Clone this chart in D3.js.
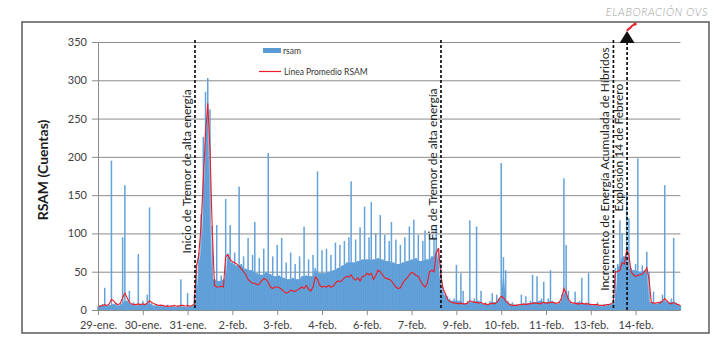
<!DOCTYPE html>
<html>
<head>
<meta charset="utf-8">
<script src="https://cdn.jsdelivr.net/npm/d3@7"></script>
<style>
  html, body { margin: 0; padding: 0; background: #fff; }
  svg { display: block; font-family: Lato, "Open Sans", sans-serif; }
</style>
</head>
<body>
<svg id="chart" width="724" height="338"></svg>
<script>
// x axis labels, one every 20 samples
const tickLabels = ["29-ene.", "30-ene.", "31-ene.", "2-feb.", "3-feb.", "4-feb.", "6-feb.",
  "7-feb.", "9-feb.", "10-feb.", "11-feb.", "13-feb.", "14-feb."];
const yTicks = [0, 50, 100, 150, 200, 250, 300, 350];

// rsam
const rsam = [
  5, 6, 8, 29, 6, 7, 195, 8, 10, 6,
  9, 95, 163, 12, 25, 8, 10, 6, 73, 7,
  12, 8, 20, 134, 9, 6, 8, 5, 7, 6,
  5, 7, 4, 6, 5, 4, 6, 40, 5, 4,
  22, 5, 6, 20, 60, 75, 125, 226, 285, 303,
  262, 110, 40, 111, 38, 45, 40, 145, 74, 111,
  62, 75, 58, 161, 60, 70, 54, 94, 52, 72,
  115, 48, 68, 46, 80, 50, 205, 47, 70, 44,
  85, 45, 94, 42, 62, 40, 75, 42, 60, 40,
  70, 44, 109, 45, 66, 44, 72, 55, 181, 48,
  78, 48, 80, 50, 72, 52, 88, 55, 85, 58,
  90, 62, 95, 168, 62, 92, 64, 108, 66, 135,
  66, 95, 141, 66, 100, 68, 124, 66, 98, 64,
  90, 115, 62, 92, 60, 85, 62, 95, 64, 109,
  66, 118, 68, 98, 64, 90, 104, 66, 100, 70,
  95, 110, 80, 60, 30, 22, 18, 15, 12, 15,
  59, 12, 48, 25, 8, 12, 117, 10, 15, 109,
  12, 25, 8, 10, 7, 12, 22, 10, 20, 15,
  192, 69, 52, 12, 8, 10, 7, 8, 6, 20,
  8, 18, 8, 12, 46, 10, 44, 12, 15, 37,
  10, 15, 52, 12, 10, 8, 12, 20, 172, 85,
  25, 12, 8, 24, 10, 12, 42, 8, 10, 48,
  8, 6, 7, 10, 6, 5, 8, 6, 7, 8,
  10, 55, 60, 117, 100, 70, 150, 120, 55, 52,
  60, 198, 50, 58, 52, 76, 50, 10, 24, 8,
  10, 12, 20, 163, 12, 10, 15, 94, 10, 8,
  6
];

// Linea Promedio RSAM
const rsamAvg = [
  5, 5, 6, 7, 6, 8, 14, 12, 8, 7,
  9, 16, 22, 16, 10, 8, 7, 7, 8, 7,
  8, 7, 9, 12, 10, 8, 7, 6, 6, 6,
  5, 5, 5, 5, 6, 5, 5, 6, 6, 5,
  6, 5, 6, 8, 58, 72, 110, 170, 230, 270,
  210, 105, 32, 30, 30, 31, 30, 70, 72, 66,
  63, 62, 60, 57, 54, 50, 46, 40, 37, 35,
  35, 33, 34, 38, 41, 40, 36, 30, 28, 30,
  30, 29, 27, 24, 22, 23, 26, 25, 24, 26,
  28, 30, 28, 32, 27, 25, 30, 43, 40, 32,
  30, 31, 30, 32, 30, 31, 35, 38, 37, 39,
  42, 44, 43, 46, 41, 39, 42, 38, 44, 44,
  48, 46, 48, 40, 45, 52, 50, 46, 42, 41,
  40, 38, 34, 30, 28, 29, 35, 39, 42, 46,
  49, 48, 45, 44, 38, 33, 30, 35, 50, 52,
  50, 74, 81, 48, 28, 22, 14, 11, 10, 9,
  9, 8, 9, 8, 8, 9, 12, 11, 10, 10,
  9, 10, 8, 8, 7, 8, 9, 8, 10, 14,
  18, 16, 12, 9, 7, 6, 6, 6, 7, 7,
  8, 7, 8, 8, 9, 9, 9, 8, 9, 10,
  9, 9, 10, 10, 9, 9, 10, 16, 28, 22,
  14, 10, 9, 9, 8, 8, 9, 8, 8, 8,
  7, 7, 7, 7, 6, 6, 6, 7, 7, 8,
  10, 50, 50, 52, 62, 60, 78, 72, 50, 46,
  44, 45, 46, 47, 50, 55, 40, 10, 9, 9,
  10, 9, 12, 15, 12, 9, 8, 10, 8, 7,
  6
];

// event lines (sample position) and their labels
const eventPos = [43.3, 153.1, 230.1, 236.2];
const eventLabels = ["Inicio de Tremor de alta energía", "Fin de Tremor de alta energía",
  "Incremento de Energía Acumulada de Híbridos", "Explosión 14 de Febrero"];
const eventLabelMid = [181, 190, 184, 212]; // in rsam units

const svg = d3.select("#chart");
const x = d3.scaleLinear().domain([0, rsam.length - 1]).range([98, 680.4]);
const y = d3.scaleLinear().domain([0, 350]).range([310, 42]);

// outer frame
svg.append("rect")
  .attr("x", 22).attr("y", 22).attr("width", 687).attr("height", 311)
  .attr("fill", "none").attr("stroke", "#5a5a5a").attr("stroke-width", 1.5);

svg.append("text")
  .attr("x", 708).attr("y", 16)
  .attr("text-anchor", "end")
  .attr("font-size", 11).attr("font-style", "italic").attr("font-weight", 300)
  .attr("letter-spacing", 0.6)
  .attr("fill", "#9d9d9d")
  .text("ELABORACIÓN OVS");

// gridlines
svg.append("g")
  .attr("transform", "translate(98,0)")
  .call(d3.axisLeft(y).tickValues(yTicks.slice(1)).tickSize(-(680.4 - 98)).tickFormat(""))
  .call(g => g.select(".domain").remove())
  .call(g => g.selectAll("line").attr("stroke", "#8c8c8c").attr("stroke-width", 1));

// rsam: solid body up to the local low, thin hair for every sample
const low = rsam.map((d, i) => Math.min(d, rsam[i - 1] ?? d, rsam[i + 1] ?? d));
svg.append("path")
  .datum(low)
  .attr("fill", "#5b9bd5")
  .attr("d", d3.area().x((d, i) => x(i)).y0(y(0)).y1(d => y(d)));

svg.append("g")
  .selectAll("rect")
  .data(rsam)
  .join("rect")
  .attr("x", (d, i) => x(i) - 0.75)
  .attr("width", 1.5)
  .attr("y", d => y(d))
  .attr("height", d => y(0) - y(d))
  .attr("fill", "#64a2d9");

// average line
svg.append("path")
  .datum(rsamAvg)
  .attr("fill", "none")
  .attr("stroke", "#ee1c24")
  .attr("stroke-width", 1.1)
  .attr("d", d3.line().x((d, i) => x(i)).y(d => y(d)));

// axes
const yAxis = svg.append("g")
  .attr("transform", "translate(98,0)")
  .call(d3.axisLeft(y).tickValues(yTicks).tickSize(6).tickPadding(5).tickSizeOuter(0));
yAxis.selectAll("text").attr("font-size", 11).attr("fill", "#404040").style("font-family", "Lato, sans-serif");
yAxis.selectAll("line, path").attr("stroke", "#8c8c8c");

const xAxis = svg.append("g")
  .attr("transform", "translate(0,310)")
  .call(d3.axisBottom(x).tickValues(tickLabels.map((d, i) => i * 20))
    .tickFormat((d, i) => tickLabels[i]).tickSize(5).tickPadding(6).tickSizeOuter(0));
xAxis.selectAll("text").attr("font-size", 11).attr("fill", "#404040").style("font-family", "Lato, sans-serif");
xAxis.selectAll("line, path").attr("stroke", "#8c8c8c");

// y title
svg.append("text")
  .attr("transform", "translate(48,170) rotate(-90)")
  .attr("text-anchor", "middle")
  .attr("font-size", 14).attr("font-weight", 700).attr("fill", "#1a1a1a")
  .text("RSAM (Cuentas)");

// event lines and labels
eventPos.forEach((p, i) => {
  const ex = x(p);
  svg.append("line")
    .attr("x1", ex).attr("x2", ex)
    .attr("y1", i === 3 ? 42 : 40).attr("y2", y(0))
    .attr("stroke", "#111").attr("stroke-width", 1.7)
    .attr("stroke-dasharray", "3,2");
  svg.append("text")
    .attr("transform", `translate(${ex - 4},${y(eventLabelMid[i])}) rotate(-90)`)
    .attr("text-anchor", "middle")
    .attr("font-size", 12).attr("fill", "#222")
    .text(eventLabels[i]);
});

// explosion marker
const exX = x(eventPos[3]);
svg.append("path")
  .attr("d", `M${exX - 7.5},43 L${exX + 7.5},43 L${exX},31 Z`)
  .attr("fill", "#111");
svg.append("path")
  .attr("d", `M${exX},31 C${exX + 1},28 ${exX + 3},29 ${exX + 4},27 C${exX + 5},25 ${exX + 6},25 ${exX + 8},24`)
  .attr("fill", "none").attr("stroke", "#e8202a").attr("stroke-width", 2);
svg.append("circle").attr("cx", exX + 8).attr("cy", 24).attr("r", 1.6).attr("fill", "#e8202a");

// legend
const lg = svg.append("g").attr("font-size", 8.5).attr("fill", "#333");
lg.append("rect").attr("x", 263).attr("y", 48).attr("width", 18).attr("height", 5).attr("fill", "#5b9bd5");
lg.append("text").attr("x", 283).attr("y", 53.5).text("rsam");
lg.append("line").attr("x1", 259).attr("x2", 281).attr("y1", 71.5).attr("y2", 71.5)
  .attr("stroke", "#ee1c24").attr("stroke-width", 1.2);
lg.append("text").attr("x", 284).attr("y", 74.5).text("Línea Promedio RSAM");
</script>
</body>
</html>
